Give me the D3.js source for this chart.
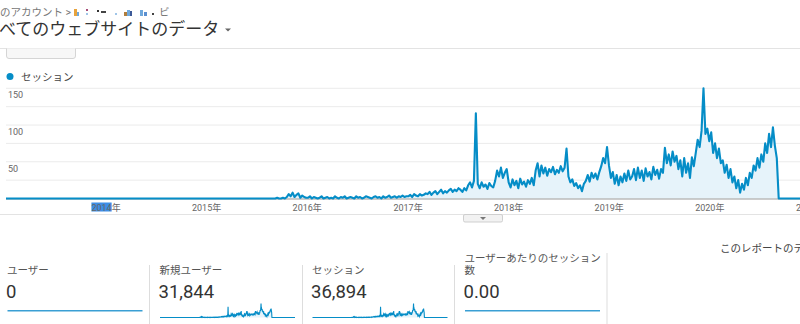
<!DOCTYPE html>
<html>
<head>
<meta charset="utf-8">
<script src="https://cdn.jsdelivr.net/npm/d3@7"></script>
<style>
  body { margin: 0; background: #fff; overflow: hidden; }
  text { font-family: Roboto, "Noto Sans CJK JP", sans-serif; }
</style>
</head>
<body>
<script>
'use strict';

// weekly sessions, first week starts 2015-08-31
const weekStart = new Date(2015, 7, 31);
const sessions2015 = [0,0,1,0,0,1,0,2,6,3,8,2,5,7,1,4,2,1];
const sessions2016 = [1,3,0,2,1,0,1,3,0,1,2,0,1,0,3,1,0,2,1,3,0,1,2,1,0,3,1,2,0,1,3,2,1,0,2,3,1,2,0,3,1,2,4,1,2,3,1,3,2,4,2,3];
const sessions2017 = [3,5,2,6,4,3,6,4,5,7,6,9,5,8,10,6,9,12,7,10,8,11,13,9,12,10,14,12,9,14,11,18,22,15,24,116,20,14,22,16,19,13,21,17,15,24,38,30,42,28,35,40];
const sessions2018 = [22,15,26,18,24,14,27,19,23,16,25,20,28,18,38,48,30,45,34,42,31,40,36,43,33,39,35,44,37,42,68,30,22,26,17,21,14,18,10,20,24,32,23,35,28,34,26,36,44,55,48,70];
const sessions2019 = [45,28,36,20,32,18,30,22,34,24,38,26,30,40,25,42,28,38,24,41,30,36,26,43,32,39,27,40,35,69,48,60,45,64,50,58,40,52,30,55,35,48,28,56,44,62,80,70,92,150,88,95];
const sessions2020 = [78,90,62,75,55,68,48,52,35,46,28,40,22,30,14,25,8,20,12,28,18,35,28,45,38,55,42,60,50,75,62,88,70,97,72,55,0];

// report date range of the chart
const rangeStart = new Date(2013, 0, 3);
const rangeEnd = new Date(2022, 3, 8);

const yGrid = [25, 50, 75, 100, 125, 150];
const yLabels = [50, 100, 150];
const years = [2014, 2015, 2016, 2017, 2018, 2019, 2020, 2021];

const cardLabels = [["ユーザー"], ["新規ユーザー"], ["セッション"], ["ユーザーあたりのセッション", "数"]];
const cardValues = ["0", "31,844", "36,894", "0.00"];
const cardTrend = [false, true, true, false];

const blue = "#058dc7";
const fillBlue = "#e6f3fa";

// build the series (zero before and after the measured weeks)
let weekly = [].concat(sessions2015, sessions2016, sessions2017, sessions2018, sessions2019, sessions2020);
let series = [{date: rangeStart, v: 0}];
weekly.forEach((v, i) => series.push({date: d3.timeDay.offset(weekStart, i * 7), v: v}));
series.push({date: rangeEnd, v: 0});

let svg = d3.select('body').append('svg')
  .attr('width', 800)
  .attr('height', 324);

// ---- header
svg.append('text')
  .attr('x', 0).attr('y', 16)
  .style('font-size', '10.5px')
  .attr('fill', '#777')
  .text('のアカウント >');

// masked account name
let mask = [[74,9,3,7,'#e8a33c'],[77,12,2,4,'#6fa8dc'],[86,9,2,2,'#a64d79'],[86,13,2,2,'#9fc5e8'],
  [97,10,2,2,'#333'],[101,11,5,2,'#444'],[115,13,2,2,'#9fc5e8'],[124,12,3,4,'#b07d3c'],
  [127,10,3,6,'#6fa8dc'],[130,11,2,5,'#3d5a98'],[140,10,3,6,'#6fa8dc'],[144,12,3,4,'#5b8fd0'],[152,13,2,2,'#444']];
svg.selectAll('.mask').data(mask).enter().append('rect')
  .attr('x', d => d[0]).attr('y', d => d[1])
  .attr('width', d => d[2]).attr('height', d => d[3])
  .attr('fill', d => d[4]);
svg.append('text')
  .attr('x', 159).attr('y', 16)
  .style('font-size', '10.5px')
  .attr('fill', '#777')
  .text('ビ');

svg.append('text')
  .attr('x', -1).attr('y', 35)
  .style('font-size', '17px')
  .attr('fill', '#333')
  .text('べてのウェブサイトのデータ');
svg.append('path')
  .attr('d', 'M225,28.5 L231,28.5 L228,31.5 Z')
  .attr('fill', '#666');

svg.append('line')
  .attr('x1', 0).attr('x2', 800).attr('y1', 48.5).attr('y2', 48.5)
  .attr('stroke', '#e3e3e3');
svg.append('path')
  .attr('d', 'M6.5,48.5 L6.5,56 Q6.5,58.5 9,58.5 L73,58.5 Q75.5,58.5 75.5,56 L75.5,48.5')
  .attr('fill', '#f7f7f7')
  .attr('stroke', '#d5d5d5');

// ---- legend
svg.append('circle')
  .attr('cx', 10).attr('cy', 76.5).attr('r', 3.5)
  .attr('fill', blue);
svg.append('text')
  .attr('x', 21).attr('y', 80.5)
  .style('font-size', '10.5px')
  .attr('fill', '#444')
  .text('セッション');

// ---- main chart
let xScale = d3.scaleTime()
  .domain([rangeStart, rangeEnd])
  .range([6, 938]);
let yScale = d3.scaleLinear()
  .domain([0, 150])
  .range([198.5, 88.3]);

svg.selectAll('.grid').data(yGrid).enter().append('line')
  .attr('x1', 6).attr('x2', 800)
  .attr('y1', d => yScale(d)).attr('y2', d => yScale(d))
  .attr('stroke', '#ebebeb');

svg.selectAll('.ylab').data(yLabels).enter().append('text')
  .attr('x', 8)
  .attr('y', d => yScale(d) + 10)
  .style('font-size', '9px')
  .attr('fill', '#666')
  .text(d => d);

let area = d3.area()
  .x(d => xScale(d.date))
  .y0(yScale(0))
  .y1(d => yScale(d.v));
svg.append('path')
  .datum(series)
  .attr('d', area)
  .attr('fill', fillBlue);

svg.append('line')
  .attr('x1', 6).attr('x2', 800)
  .attr('y1', yScale(0) + 0.5).attr('y2', yScale(0) + 0.5)
  .attr('stroke', '#999');

let line = d3.line()
  .x(d => xScale(d.date))
  .y(d => yScale(d.v));
svg.append('path')
  .datum(series)
  .attr('d', line)
  .attr('fill', 'none')
  .attr('stroke', blue)
  .attr('stroke-width', 2.1)
  .attr('stroke-linejoin', 'round');

// year labels
let yearText = svg.selectAll('.xlab').data(years).enter().append('text')
  .attr('class', 'xlab')
  .attr('x', d => xScale(new Date(d, 0, 1)))
  .attr('y', 211)
  .attr('text-anchor', 'middle')
  .style('font-size', '9px')
  .attr('fill', '#666');
yearText.append('tspan').text(d => d);
yearText.append('tspan').text('年');

// the "2014" part of the first label is selected in the screenshot
let first = yearText.filter(d => d === 2014).node();
let sx = first.getStartPositionOfChar(0).x;
let sw = first.getSubStringLength(0, 4);
svg.insert('rect', '.xlab')
  .attr('x', sx).attr('y', 202.5)
  .attr('width', sw).attr('height', 9)
  .attr('fill', '#3d8ee6');

svg.append('line')
  .attr('x1', 0).attr('x2', 800).attr('y1', 214.5).attr('y2', 214.5)
  .attr('stroke', '#e3e3e3');
svg.append('rect')
  .attr('x', 463.5).attr('y', 214.5).attr('width', 39).attr('height', 7.5).attr('rx', 1.5)
  .attr('fill', '#f2f2f2').attr('stroke', '#cfcfcf');
svg.append('path')
  .attr('d', 'M480,217 L486,217 L483,220 Z')
  .attr('fill', '#777');

// ---- note on the right
svg.append('text')
  .attr('x', 720).attr('y', 251.5)
  .style('font-size', '10.5px')
  .attr('fill', '#444')
  .text('このレポートのデータは');

// ---- metric cards
let cardX = d3.scaleLinear().domain([0, 1]).range([6, 158.5]);
let dividers = [149.5, 302.5, 454.5, 607];

svg.selectAll('.div').data(dividers).enter().append('line')
  .attr('x1', d => d).attr('x2', d => d)
  .attr('y1', (d, i) => i === 3 ? 253 : 265).attr('y2', 324)
  .attr('stroke', '#dddddd');

cardLabels.forEach((lab, k) => {
  let x0 = cardX(k);
  let t = svg.append('text')
    .attr('x', x0 + 1)
    .style('font-size', '10.5px')
    .attr('fill', '#555');
  lab.forEach((s, j) => {
    t.append('tspan')
      .attr('x', x0 + 1)
      .attr('y', 274 - (lab.length - 1 - j) * 12)
      .text(s);
  });
  svg.append('text')
    .attr('x', x0)
    .attr('y', 298)
    .style('font-size', '18.5px')
    .attr('fill', '#333')
    .text(cardValues[k]);

  let sxScale = d3.scaleTime()
    .domain([rangeStart, rangeEnd])
    .range([x0 + 1.5, x0 + 136.5]);
  if (cardTrend[k]) {
    let syScale = d3.scaleLinear().domain([0, 150]).range([317.5, 303.5]);
    svg.append('path')
      .datum(series)
      .attr('d', d3.area().x(d => sxScale(d.date)).y0(syScale(0)).y1(d => syScale(d.v)))
      .attr('fill', fillBlue);
    svg.append('path')
      .datum(series)
      .attr('d', d3.line().x(d => sxScale(d.date)).y(d => syScale(d.v)))
      .attr('fill', 'none')
      .attr('stroke', blue)
      .attr('stroke-width', 1.1);
  } else {
    // metric is zero over the whole range
    let flatY = d3.scaleLinear().domain([-1, 1]).range([318, 303.5]);
    svg.append('path')
      .datum(series.map(d => ({date: d.date, v: 0})))
      .attr('d', d3.line().x(d => sxScale(d.date)).y(d => flatY(d.v)))
      .attr('fill', 'none')
      .attr('stroke', '#3a9fd4')
      .attr('stroke-width', 1.5);
  }
});
</script>
</body>
</html>
